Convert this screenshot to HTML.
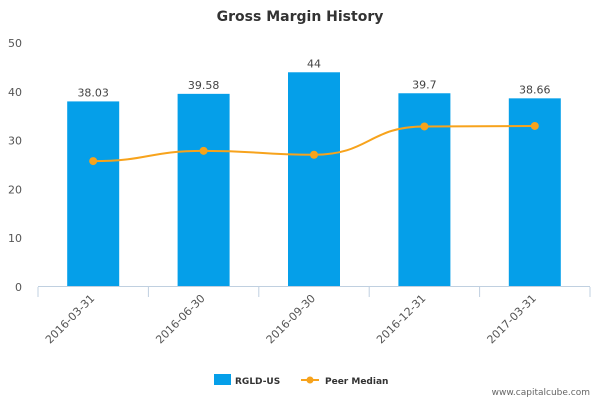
<!DOCTYPE html>
<html><head><meta charset="utf-8"><style>
body{margin:0;background:#fff;font-family:"Liberation Sans","DejaVu Sans",sans-serif;}
svg text{font-family:"DejaVu Sans","Liberation Sans",sans-serif;}
</style></head><body>
<svg id="chart" width="600" height="400">
<text x="300" y="21" text-anchor="middle" font-size="14" font-weight="bold" fill="#333">Gross Margin History</text>
<g id="yaxis"></g><g id="bars"></g><g id="line"></g><g id="xaxis"></g>
<g>
<rect x="214" y="374" width="17" height="11" fill="#059fe9"/>
<text x="235" y="384" font-size="9" font-weight="bold" fill="#333">RGLD-US</text>
<line x1="301" y1="380" x2="319" y2="380" stroke="#f7a31c" stroke-width="2"/>
<circle cx="310" cy="380" r="3.5" fill="#f7a31c"/>
<text x="325" y="384" font-size="9" font-weight="bold" fill="#333">Peer Median</text>
</g>
<text x="590" y="395" text-anchor="end" font-size="9" fill="#666">www.capitalcube.com</text>
</svg>
<script>
const categories=["2016-03-31","2016-06-30","2016-09-30","2016-12-31","2017-03-31"];
const barValues=[38.03,39.58,44,39.7,38.66];
const barLabels=["38.03","39.58","44","39.7","38.66"];
const peerValues=[25.8,27.9,27.1,32.9,33.0];
const yTicks=[0,10,20,30,40,50];
const NS="http://www.w3.org/2000/svg";
const x0=38,x1=590,y0=287,yTop=43,yMax=50;
const band=(x1-x0)/categories.length;
const y=v=>y0-(v/yMax)*(y0-yTop);
const xc=i=>x0+band*(i+0.5);
function mk(t,a,p){const e=document.createElementNS(NS,t);for(const k in a)e.setAttribute(k,a[k]);p.appendChild(e);return e;}
const ya=document.getElementById('yaxis');
yTicks.forEach(v=>{const t=mk('text',{x:22,y:y(v)+4,'text-anchor':'end','font-size':11,fill:'#555'},ya);t.textContent=v;

});
const xa=document.getElementById('xaxis');
const ax=mk('line',{x1:x0,y1:y0-0.5,x2:x1,y2:y0-0.5,stroke:'#c0d0e0'},xa);


for(let i=0;i<=categories.length;i++){const tk=mk('line',{x1:x0+band*i,y1:y0,x2:x0+band*i,y2:y0+10,stroke:'#c0d0e0'},xa);

}
categories.forEach((c,i)=>{const cx=xc(i)+2,cy=y0+12;const t=mk('text',{x:cx,y:cy,'text-anchor':'end','font-size':11,fill:'#555',transform:`rotate(-45 ${cx} ${cy})`},xa);t.textContent=c;

});
const bg=document.getElementById('bars');
barValues.forEach((v,i)=>{const w=52;const r=mk('rect',{x:xc(i)-w/2,y:y(v),width:w,height:y0-y(v),fill:'#059fe9'},bg);


const t=mk('text',{x:xc(i),y:y(v)-5,'text-anchor':'middle','font-size':11,fill:'#444'},bg);t.textContent=barLabels[i];

});
const lg=document.getElementById('line');
const pts=peerValues.map((v,i)=>[xc(i),y(v)]);
let d=`M${pts[0][0]},${pts[0][1]}`;
for(let i=1;i<pts.length;i++){const [ax_,ay]=pts[i-1],[bx,by]=pts[i];const dx=(bx-ax_)/2;d+=` C${ax_+dx},${ay} ${bx-dx},${by} ${bx},${by}`;}
const p=mk('path',{d:d,fill:'none',stroke:'#f7a31c','stroke-width':2},lg);


pts.forEach((q,i)=>{const c=mk('circle',{cx:q[0],cy:q[1],r:4,fill:'#f7a31c'},lg);

});
</script>
</body></html>
